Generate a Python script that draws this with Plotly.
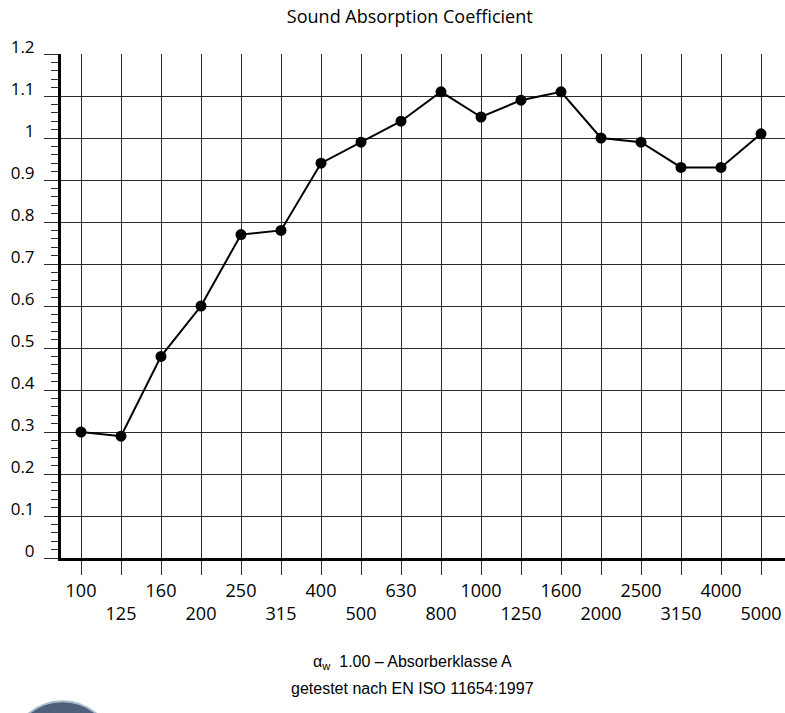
import plotly.graph_objects as go

freqs = ["100", "125", "160", "200", "250", "315", "400", "500", "630", "800",
         "1000", "1250", "1600", "2000", "2500", "3150", "4000", "5000"]
alpha = [0.30, 0.29, 0.48, 0.60, 0.77, 0.78, 0.94, 0.99, 1.04, 1.11,
         1.05, 1.09, 1.11, 1.00, 0.99, 0.93, 0.93, 1.01]
y_ticks = [0, 0.1, 0.2, 0.3, 0.4, 0.5, 0.6, 0.7, 0.8, 0.9, 1.0, 1.1, 1.2]
y_labels = ["0", "0.1", "0.2", "0.3", "0.4", "0.5", "0.6", "0.7", "0.8", "0.9", "1", "1.1", "1.2"]

title_text = "Sound Absorption Coefficient"
note_line1 = "α<sub>w</sub>  1.00 – Absorberklasse A"
note_line2 = "getestet nach EN ISO 11654:1997"

x_idx = list(range(len(freqs)))
x_ticktext = [f if i % 2 == 0 else "<br>" + f for i, f in enumerate(freqs)]

grid_col = "#2a2a2a"

fig = go.Figure()
fig.add_trace(go.Scatter(
    x=x_idx, y=alpha, mode="lines+markers",
    line=dict(color="black", width=2),
    marker=dict(color="black", size=11),
    hoverinfo="skip", showlegend=False,
))

fig.update_layout(
    width=785, height=713,
    margin=dict(l=61, r=0, t=54, b=155),
    paper_bgcolor="white", plot_bgcolor="white",
    font=dict(family="Open Sans", color="black"),
    showlegend=False,
    title=dict(text=title_text, x=0.522, xanchor="center", y=0.976, yanchor="middle",
               font=dict(family="Open Sans", size=18, color="black")),
    xaxis=dict(
        range=[-0.5, 17.6], tickmode="array", tickvals=x_idx, ticktext=x_ticktext,
        tickangle=0,
        showgrid=True, gridcolor=grid_col, gridwidth=1.3,
        ticks="outside", ticklen=14, tickwidth=1.3, tickcolor=grid_col,
        showline=True, linecolor="black", linewidth=3,
        tickfont=dict(family="Open Sans", size=18, color="black"),
        zeroline=False, fixedrange=True,
    ),
    yaxis=dict(
        range=[0, 1.2], tickmode="array", tickvals=y_ticks, ticktext=y_labels,
        showgrid=True, gridcolor=grid_col, gridwidth=1.3,
        ticks="outside", ticklen=14, tickwidth=1.3, tickcolor=grid_col,
        minor=dict(dtick=0.02, tick0=0, ticks="outside", ticklen=7, tickwidth=1.3,
                   tickcolor=grid_col, showgrid=False),
        showline=True, linecolor="black", linewidth=3,
        tickfont=dict(family="Open Sans", size=17, color="black"),
        ticklabelposition="outside top", ticklabelstandoff=20, ticklabelshift=6,
        zeroline=False, fixedrange=True,
    ),
)

note_font = dict(family="Liberation Sans, Arial", size=16, color="black")
fig.add_annotation(
    text=note_line1, xref="paper", yref="paper", x=0.486, y=-0.208,
    xanchor="center", yanchor="middle", showarrow=False, font=note_font,
)
fig.add_annotation(
    text=note_line2, xref="paper", yref="paper", x=0.486, y=-0.258,
    xanchor="center", yanchor="middle", showarrow=False, font=note_font,
)

# decorative logo arc in bottom-left corner
fig.add_shape(type="circle", xref="paper", yref="paper",
              x0=-0.073, x1=0.077, y0=-0.51, y1=-0.284,
              fillcolor="#4f6179", line=dict(color="#a9bccf", width=2), layer="above")

fig.write_html(
    "out.html",
    config={"displayModeBar": False},
    post_script="document.body.style.margin='0';document.body.style.overflow='hidden';",
)
